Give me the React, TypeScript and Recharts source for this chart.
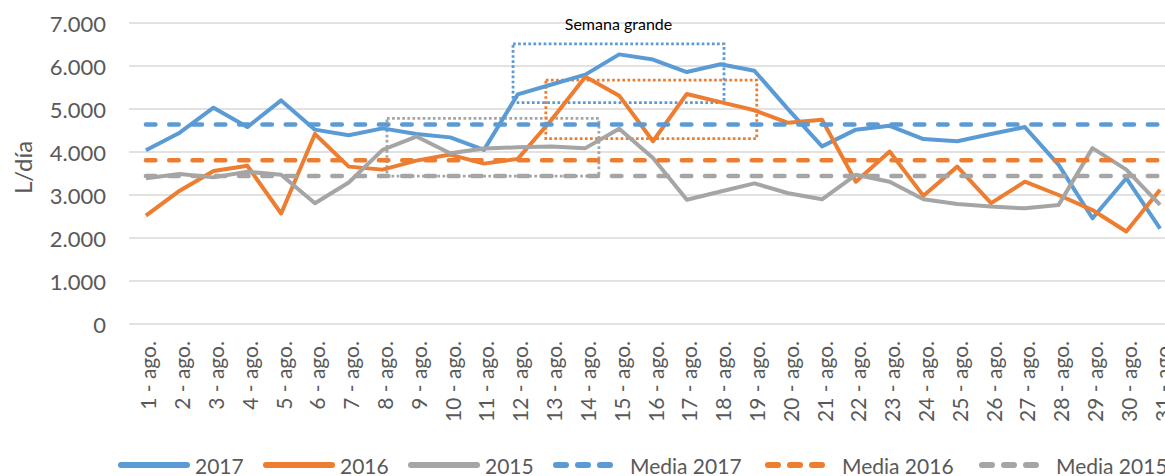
import { LineChart, Line, XAxis, YAxis, CartesianGrid, Legend, ReferenceArea } from 'recharts'

const DAYS = [1, 2, 3, 4, 5, 6, 7, 8, 9, 10, 11, 12, 13, 14, 15, 16, 17, 18, 19, 20, 21, 22, 23, 24, 25, 26, 27, 28, 29, 30, 31]

const L2017 = [4040, 4450, 5030, 4580, 5200, 4520, 4390, 4550, 4420, 4340, 4050, 5340, 5570, 5800, 6270, 6150, 5860, 6040, 5890, 4990, 4130, 4520, 4610, 4300, 4250, 4420, 4580, 3700, 2460, 3390, 2220]
const L2016 = [2520, 3100, 3560, 3680, 2570, 4420, 3660, 3590, 3800, 3940, 3730, 3840, 4750, 5750, 5310, 4250, 5350, 5160, 4970, 4680, 4750, 3310, 4010, 2980, 3660, 2810, 3310, 3000, 2650, 2150, 3120]
const L2015 = [3390, 3490, 3410, 3540, 3470, 2810, 3290, 4050, 4360, 3970, 4080, 4110, 4130, 4090, 4540, 3860, 2890, 3080, 3270, 3040, 2900, 3470, 3310, 2900, 2790, 2730, 2690, 2770, 4090, 3590, 2770]

const MEDIA_2017 = 4640
const MEDIA_2016 = 3810
const MEDIA_2015 = 3440

const Y_TICKS = [0, 1000, 2000, 3000, 4000, 5000, 6000, 7000]

// highlighted stretches (x in day units, y in L/día)
const BOXES = [
  { x1: 8.13, x2: 14.4, y1: 3440, y2: 4780, color: '#A5A5A5' },
  { x1: 12.83, x2: 19.07, y1: 4310, y2: 5670, color: '#ED7D31' },
  { x1: 11.86, x2: 18.1, y1: 5150, y2: 6515, color: '#5B9BD5', label: 'Semana grande' },
]

const BLUE = '#5B9BD5'
const ORANGE = '#ED7D31'
const GREY = '#A5A5A5'
const TEXT = '#595959'
const FONT = 'Lato, sans-serif'

const data = DAYS.map((d, i) => ({
  day: d,
  y2017: L2017[i],
  y2016: L2016[i],
  y2015: L2015[i],
  m2017: MEDIA_2017,
  m2016: MEDIA_2016,
  m2015: MEDIA_2015,
}))

const LEGEND = [
  { name: '2017', color: BLUE, dashed: false, w: 145 },
  { name: '2016', color: ORANGE, dashed: false, w: 145 },
  { name: '2015', color: GREY, dashed: false, w: 145 },
  { name: 'Media 2017', color: BLUE, dashed: true, w: 212 },
  { name: 'Media 2016', color: ORANGE, dashed: true, w: 214 },
  { name: 'Media 2015', color: GREY, dashed: true, w: 220 },
]

const fmt = (v: number) => (v === 0 ? '0' : `${v / 1000}.000`)

const XTick = ({ x, y, payload }: any) => {
  const ty = y + 17
  return (
    <text
      x={x + 2}
      y={ty}
      transform={`rotate(-90, ${x + 2}, ${ty})`}
      textAnchor="end"
      dominantBaseline="central"
      fontSize={21}
      fontFamily={FONT}
      fill={TEXT}
    >
      {`${payload.value} - ago.`}
    </text>
  )
}

const YTick = ({ x, y, payload }: any) => (
  <text x={x} y={y} textAnchor="end" dominantBaseline="central" fontSize={22} fontFamily={FONT} fill={TEXT}>
    {fmt(payload.value)}
  </text>
)

const YLabel = (props: any) => {
  const vb = props.viewBox
  const cx = vb.x + 22
  const cy = vb.y + vb.height / 2 - 6
  return (
    <text
      x={cx}
      y={cy}
      transform={`rotate(-90, ${cx}, ${cy})`}
      textAnchor="middle"
      dominantBaseline="central"
      fontSize={24}
      fontFamily={FONT}
      fill={TEXT}
    >
      L/día
    </text>
  )
}

const renderLegend = () => {
  let left = 118
  return (
    <svg width={1200} height={34} style={{ display: 'block' }}>
      {LEGEND.map((it) => {
        const x0 = left
        left += it.w
        return (
          <g key={it.name}>
            {it.dashed ? (
              <line x1={x0 + 3} x2={x0 + 62} y1={23} y2={23} stroke={it.color} strokeWidth={6} strokeLinecap="round" strokeDasharray="10 12" />
            ) : (
              <line x1={x0 + 3} x2={x0 + 69} y1={23} y2={23} stroke={it.color} strokeWidth={6} strokeLinecap="round" />
            )}
            <text x={x0 + 77} y={23} dominantBaseline="central" fontSize={21} fontFamily={FONT} fill={TEXT}>
              {it.name}
            </text>
          </g>
        )
      })}
    </svg>
  )
}

export default function App() {
  return (
    <div style={{ position: 'absolute', top: 0, left: 0, width: 1165, height: 476, overflow: 'hidden', background: '#fff' }}>
      <LineChart width={1200} height={476} data={data} margin={{ top: 23, right: 23, left: 0, bottom: 0 }}>
        <CartesianGrid stroke="#D9D9D9" strokeWidth={1.3} vertical={false} />
        <XAxis
          dataKey="day"
          type="number"
          domain={[0.5, 31.5]}
          ticks={DAYS}
          interval={0}
          axisLine={false}
          tickLine={false}
          tickSize={0}
          tickMargin={0}
          height={118}
          tick={<XTick />}
        />
        <YAxis
          domain={[0, 7000]}
          ticks={Y_TICKS}
          width={129}
          axisLine={false}
          tickLine={false}
          tickSize={0}
          tickMargin={23}
          tick={<YTick />}
          label={{ value: 'L/día', content: <YLabel /> }}
        />
        <Legend verticalAlign="bottom" content={renderLegend} wrapperStyle={{ left: 0, width: 1200, height: 34 }} />
        {BOXES.map((b) => (
          <ReferenceArea
            key={b.color}
            x1={b.x1}
            x2={b.x2}
            y1={b.y1}
            y2={b.y2}
            fill="none"
            stroke={b.color}
            strokeWidth={2.8}
            strokeDasharray="2.7 2.4"
            ifOverflow="visible"
            label={b.label ? { value: b.label, position: 'top', offset: 14, fill: '#000', fontSize: 16, fontFamily: FONT } : undefined}
          />
        ))}
        <Line dataKey="y2017" stroke={BLUE} strokeWidth={4} dot={false} isAnimationActive={false} strokeLinejoin="round" />
        <Line dataKey="y2016" stroke={ORANGE} strokeWidth={4} dot={false} isAnimationActive={false} strokeLinejoin="round" />
        <Line dataKey="y2015" stroke={GREY} strokeWidth={4} dot={false} isAnimationActive={false} strokeLinejoin="round" />
        <Line dataKey="m2017" stroke={BLUE} strokeWidth={4.5} strokeDasharray="9.5 13.8" strokeLinecap="round" dot={false} isAnimationActive={false} />
        <Line dataKey="m2016" stroke={ORANGE} strokeWidth={4.5} strokeDasharray="9.5 13.8" strokeLinecap="round" dot={false} isAnimationActive={false} />
        <Line dataKey="m2015" stroke={GREY} strokeWidth={4.5} strokeDasharray="9.5 13.8" strokeLinecap="round" dot={false} isAnimationActive={false} />
      </LineChart>
    </div>
  )
}
